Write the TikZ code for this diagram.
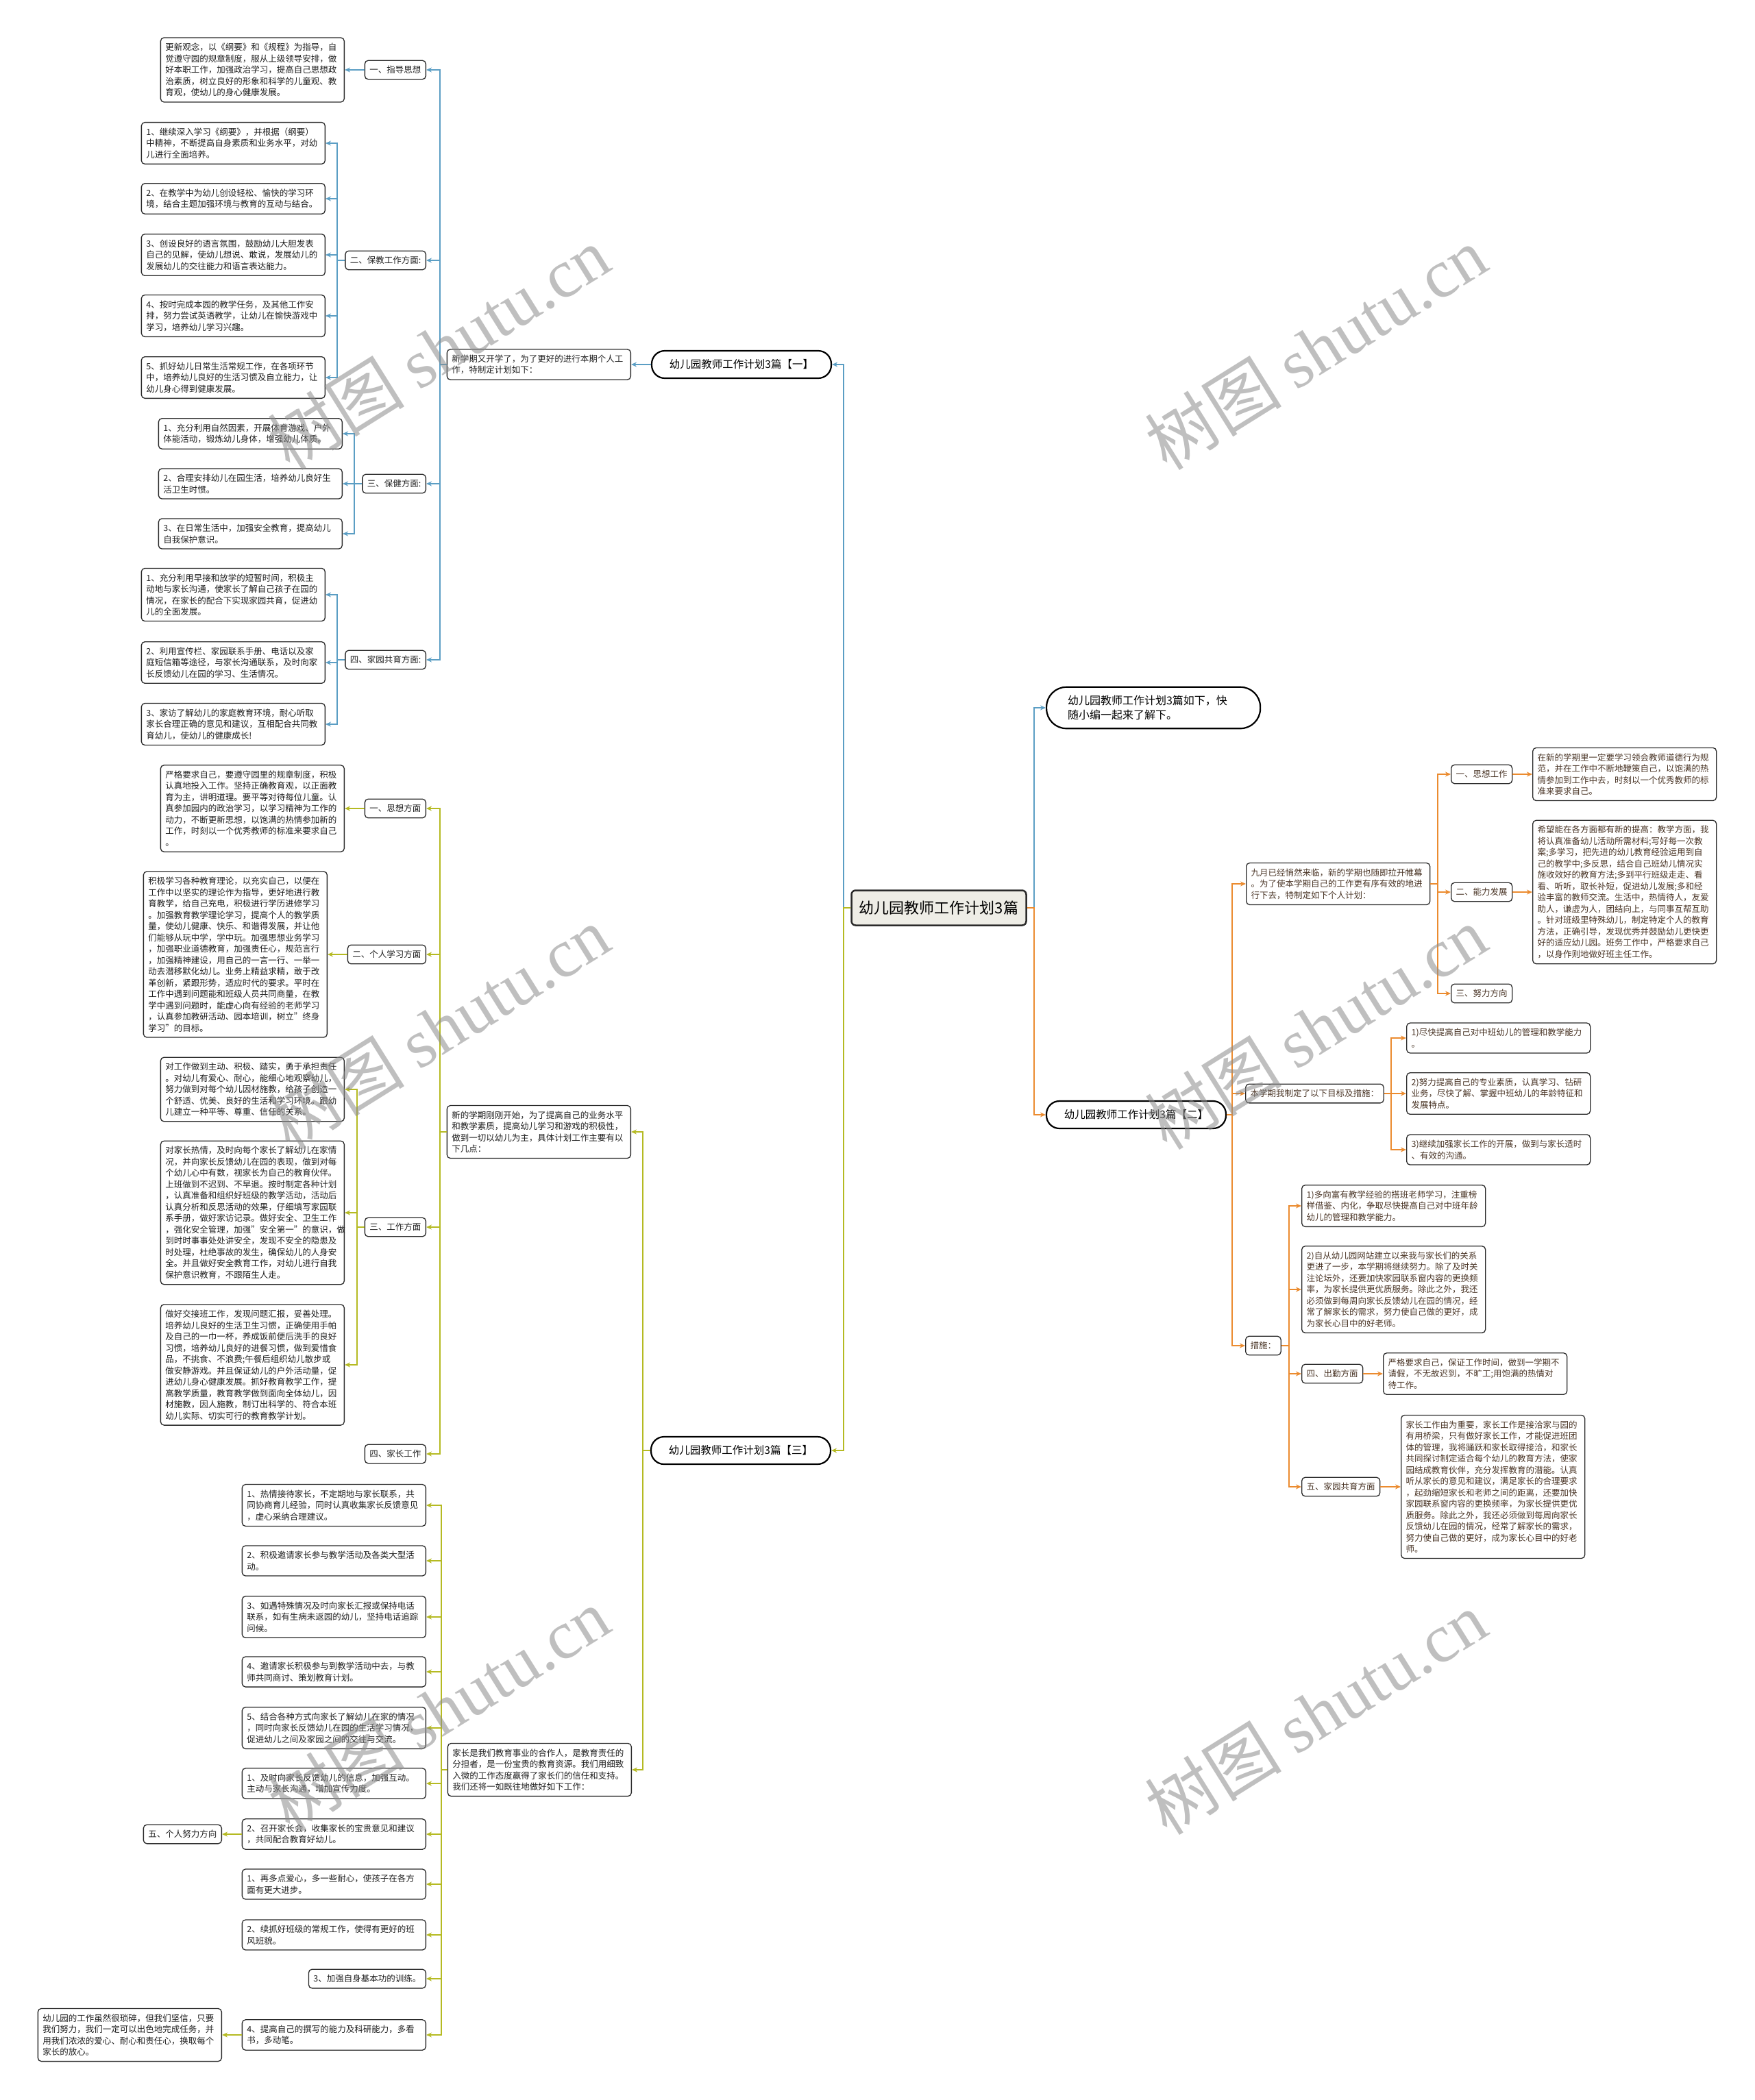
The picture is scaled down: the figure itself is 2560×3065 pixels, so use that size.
\documentclass[tikz,border=0pt]{standalone}
\usepackage{fontspec}
\setmainfont{Noto Sans CJK SC}
\newfontfamily\wmlatin{Liberation Serif}
\usetikzlibrary{arrows.meta}
\definecolor{cblue}{HTML}{5B9EC4}
\definecolor{cyel}{HTML}{B5BA22}
\definecolor{corg}{HTML}{EB8B2F}
\definecolor{bordc}{HTML}{2B2B2B}
\definecolor{brn}{HTML}{4A3526}
\definecolor{rootfill}{HTML}{EEEDE6}
\tikzset{
  box/.style={draw=bordc, line width=1.3pt, rounded corners=5pt, fill=white,
    inner xsep=7pt, inner ysep=8pt, font=\fontsize{12.5}{16.5}\selectfont,
    align=left, text=black!88},
  leaf/.style={box, text width=254pt},
  otext/.style={text=brn},
  branch/.style={draw=black, line width=2.2pt, rounded corners=19pt, fill=white,
    minimum width=262pt, minimum height=40pt, inner sep=0pt,
    font=\fontsize{15.5}{19}\selectfont},
  conn/.style={line width=2pt, -{Stealth[length=8pt,width=7pt]}},
  wm/.style={rotate=32, text=black!45, opacity=0.55, font=\fontsize{100}{100}\selectfont}
}
\begin{document}
\begin{tikzpicture}[x=1pt,y=-1pt]
\fill[white] (0,0) rectangle (2560,3065);
\useasboundingbox (0,0) rectangle (2560,3065);

% ---------- root ----------
\node[draw=bordc, line width=2.5pt, rounded corners=6pt, fill=rootfill,
  minimum width=255pt, minimum height=51pt, inner sep=0pt, font=\fontsize{22}{26}\selectfont]
  (root) at (1370,1325) {幼儿园教师工作计划3篇};

% ---------- branch 1 (blue) ----------
\node[branch] (b1) at (1082,532) {幼儿园教师工作计划3篇【一】};
\node[leaf, anchor=east] (i1) at (921,532) {新学期又开学了，为了更好的进行本期个人工\\作，特制定计划如下：};

\node[box, anchor=east] (s1) at (622,102) {一、指导思想};
\node[leaf, anchor=east] (l1) at (503,102) {更新观念，以《纲要》和《规程》为指导，自\\觉遵守园的规章制度，服从上级领导安排，做\\好本职工作，加强政治学习，提高自己思想政\\治素质，树立良好的形象和科学的儿童观、教\\育观，使幼儿的身心健康发展。};

\node[box, anchor=east] (s2) at (622,380) {二、保教工作方面:};
\node[leaf, anchor=east] (l21) at (475,209) {1、继续深入学习《纲要》，并根据（纲要）\\中精神，不断提高自身素质和业务水平，对幼\\儿进行全面培养。};
\node[leaf, anchor=east] (l22) at (475,290) {2、在教学中为幼儿创设轻松、愉快的学习环\\境，结合主题加强环境与教育的互动与结合。};
\node[leaf, anchor=east] (l23) at (475,372) {3、创设良好的语言氛围，鼓励幼儿大胆发表\\自己的见解，使幼儿想说、敢说，发展幼儿的\\发展幼儿的交往能力和语言表达能力。};
\node[leaf, anchor=east] (l24) at (475,461) {4、按时完成本园的教学任务，及其他工作安\\排，努力尝试英语教学，让幼儿在愉快游戏中\\学习，培养幼儿学习兴趣。};
\node[leaf, anchor=east] (l25) at (475,551) {5、抓好幼儿日常生活常规工作，在各项环节\\中，培养幼儿良好的生活习惯及自立能力，让\\幼儿身心得到健康发展。};

\node[box, anchor=east] (s3) at (622,706) {三、保健方面:};
\node[leaf, anchor=east] (l31) at (500,633) {1、充分利用自然因素，开展体育游戏、户外\\体能活动，锻炼幼儿身体，增强幼儿体质。};
\node[leaf, anchor=east] (l32) at (500,706) {2、合理安排幼儿在园生活，培养幼儿良好生\\活卫生时惯。};
\node[leaf, anchor=east] (l33) at (500,779) {3、在日常生活中，加强安全教育，提高幼儿\\自我保护意识。};

\node[box, anchor=east] (s4) at (622,963) {四、家园共育方面:};
\node[leaf, anchor=east] (l41) at (475,868) {1、充分利用早接和放学的短暂时间，积极主\\动地与家长沟通，使家长了解自己孩子在园的\\情况，在家长的配合下实现家园共育，促进幼\\儿的全面发展。};
\node[leaf, anchor=east] (l42) at (475,967) {2、利用宣传栏、家园联系手册、电话以及家\\庭短信箱等途径，与家长沟通联系，及时向家\\长反馈幼儿在园的学习、生活情况。};
\node[leaf, anchor=east] (l43) at (475,1057) {3、家访了解幼儿的家庭教育环境，耐心听取\\家长合理正确的意见和建议，互相配合共同教\\育幼儿，使幼儿的健康成长!};

\begin{scope}[cblue]
\draw[conn] (root.west) -- ++(-10,0) |- (b1.east);
\draw[conn] (b1.west) -- (i1.east);
\foreach \t in {s1,s2,s3,s4} \draw[conn] (i1.west) -- ++(-10,0) |- (\t.east);
\draw[conn] (s1.west) -- (l1.east);
\foreach \t in {l21,l22,l23,l24,l25} \draw[conn] (s2.west) -- ++(-11,0) |- (\t.east);
\foreach \t in {l31,l32,l33} \draw[conn] (s3.west) -- ++(-11,0) |- (\t.east);
\foreach \t in {l41,l42,l43} \draw[conn] (s4.west) -- ++(-11,0) |- (\t.east);
\end{scope}

% ---------- branch 3 (yellow) ----------
\node[branch] (b3) at (1081,2117) {幼儿园教师工作计划3篇【三】};
\node[leaf, anchor=east] (i3) at (921,1652) {新的学期刚刚开始，为了提高自己的业务水平\\和教学素质，提高幼儿学习和游戏的积极性，\\做到一切以幼儿为主，具体计划工作主要有以\\下几点：};
\node[leaf, anchor=east] (i5) at (922,2583) {家长是我们教育事业的合作人，是教育责任的\\分担者，是一份宝贵的教育资源。我们用细致\\入微的工作态度赢得了家长们的信任和支持。\\我们还将一如既往地做好如下工作：};

\node[box, anchor=east] (y1) at (622,1180) {一、思想方面};
\node[leaf, anchor=east] (y1l) at (503,1180) {严格要求自己，要遵守园里的规章制度，积极\\认真地投入工作。坚持正确教育观，以正面教\\育为主，讲明道理。要平等对待每位儿童。认\\真参加园内的政治学习，以学习精神为工作的\\动力，不断更新思想，以饱满的热情参加新的\\工作，时刻以一个优秀教师的标准来要求自己\\。};

\node[box, anchor=east] (y2) at (622,1393) {二、个人学习方面};
\node[leaf, anchor=east] (y2l) at (478,1393) {积极学习各种教育理论，以充实自己，以便在\\工作中以坚实的理论作为指导，更好地进行教\\育教学，给自己充电，积极进行学历进修学习\\。加强教育教学理论学习，提高个人的教学质\\量，使幼儿健康、快乐、和谐得发展，并让他\\们能够从玩中学，学中玩。加强思想业务学习\\，加强职业道德教育，加强责任心，规范言行\\，加强精神建设，用自己的一言一行、一举一\\动去潜移默化幼儿。业务上精益求精，敢于改\\革创新，紧跟形势，适应时代的要求。平时在\\工作中遇到问题能和班级人员共同商量，在教\\学中遇到问题时，能虚心向有经验的老师学习\\，认真参加教研活动、园本培训，树立"终身\\学习"的目标。};

\node[box, anchor=east] (y3) at (622,1791) {三、工作方面};
\node[leaf, anchor=east] (y3a) at (503,1590) {对工作做到主动、积极、踏实，勇于承担责任\\。对幼儿有爱心、耐心，能细心地观察幼儿，\\努力做到对每个幼儿因材施教，给孩子创造一\\个舒适、优美、良好的生活和学习环境。跟幼\\儿建立一种平等、尊重、信任的关系。};
\node[leaf, anchor=east] (y3b) at (503,1770) {对家长热情，及时向每个家长了解幼儿在家情\\况，并向家长反馈幼儿在园的表现，做到对每\\个幼儿心中有数，视家长为自己的教育伙伴。\\上班做到不迟到、不早退。按时制定各种计划\\，认真准备和组织好班级的教学活动，活动后\\认真分析和反思活动的效果，仔细填写家园联\\系手册，做好家访记录。做好安全、卫生工作\\，强化安全管理，加强"安全第一"的意识，做\\到时时事事处处讲安全，发现不安全的隐患及\\时处理，杜绝事故的发生，确保幼儿的人身安\\全。并且做好安全教育工作，对幼儿进行自我\\保护意识教育，不跟陌生人走。};
\node[leaf, anchor=east] (y3c) at (503,1992) {做好交接班工作，发现问题汇报，妥善处理。\\培养幼儿良好的生活卫生习惯，正确使用手帕\\及自己的一巾一杯，养成饭前便后洗手的良好\\习惯，培养幼儿良好的进餐习惯，做到爱惜食\\品，不挑食、不浪费;午餐后组织幼儿散步或\\做安静游戏。并且保证幼儿的户外活动量，促\\进幼儿身心健康发展。抓好教育教学工作，提\\高教学质量，教育教学做到面向全体幼儿，因\\材施教，因人施教，制订出科学的、符合本班\\幼儿实际、切实可行的教育教学计划。};

\node[box, anchor=east] (y4) at (622,2122) {四、家长工作};

\node[leaf, anchor=east] (c1) at (622,2197) {1、热情接待家长，不定期地与家长联系，共\\同协商育儿经验，同时认真收集家长反馈意见\\，虚心采纳合理建议。};
\node[leaf, anchor=east] (c2) at (622,2278) {2、积极邀请家长参与教学活动及各类大型活\\动。};
\node[leaf, anchor=east] (c3) at (622,2360) {3、如遇特殊情况及时向家长汇报或保持电话\\联系，如有生病未返园的幼儿，坚持电话追踪\\问候。};
\node[leaf, anchor=east] (c4) at (622,2440) {4、邀请家长积极参与到教学活动中去，与教\\师共同商讨、策划教育计划。};
\node[leaf, anchor=east] (c5) at (622,2522) {5、结合各种方式向家长了解幼儿在家的情况\\，同时向家长反馈幼儿在园的生活学习情况，\\促进幼儿之间及家园之间的交往与交流。};
\node[leaf, anchor=east] (c6) at (622,2603) {1、及时向家长反馈幼儿的信息，加强互动。\\主动与家长沟通，增加宣传力度。};
\node[leaf, anchor=east] (c7) at (622,2677) {2、召开家长会，收集家长的宝贵意见和建议\\，共同配合教育好幼儿。};
\node[leaf, anchor=east] (c8) at (622,2750) {1、再多点爱心，多一些耐心，使孩子在各方\\面有更大进步。};
\node[leaf, anchor=east] (c9) at (622,2824) {2、续抓好班级的常规工作，使得有更好的班\\风班貌。};
\node[box, anchor=east] (c10) at (622,2888) {3、加强自身基本功的训练。};
\node[leaf, anchor=east] (c11) at (622,2970) {4、提高自己的撰写的能力及科研能力，多看\\书，多动笔。};
\node[box, anchor=east] (wu) at (324,2677) {五、个人努力方向};
\node[leaf, anchor=east] (fin) at (324,2970) {幼儿园的工作虽然很琐碎，但我们坚信，只要\\我们努力，我们一定可以出色地完成任务，并\\用我们浓浓的爱心、耐心和责任心，换取每个\\家长的放心。};

\begin{scope}[cyel]
\draw[conn] (root.west) -- ++(-10,0) |- (b3.east);
\foreach \t in {i3,i5} \draw[conn] (b3.west) -- ++(-11,0) |- (\t.east);
\foreach \t in {y1,y2,y3,y4} \draw[conn] (i3.west) -- ++(-10,0) |- (\t.east);
\draw[conn] (y1.west) -- (y1l.east);
\draw[conn] (y2.west) -- (y2l.east);
\foreach \t in {y3a,y3b,y3c} \draw[conn] (y3.west) -- ++(-11,0) |- (\t.east);
\foreach \t in {c1,c2,c3,c4,c5,c6,c7,c8,c9,c10,c11} \draw[conn] (i5.west) -- ++(-9,0) |- (\t.east);
\draw[conn] (c7.west) -- (wu.east);
\draw[conn] (c11.west) -- (fin.east);
\end{scope}

% ---------- right side ----------
\node[draw=black, line width=2.2pt, rounded corners=29pt, fill=white, anchor=west,
  text width=250pt, inner xsep=31pt, inner ysep=12pt, align=left,
  font=\fontsize{16}{21.5}\selectfont] (ir) at (1526,1033)
  {幼儿园教师工作计划3篇如下，快\\随小编一起来了解下。};
\draw[conn, cblue] (root.east) -- ++(10,0) |- (ir.west);

\node[branch] (b2) at (1658,1627) {幼儿园教师工作计划3篇【二】};

\node[leaf, otext, anchor=west] (j) at (1818,1290) {九月已经悄然来临，新的学期也随即拉开帷幕\\。为了使本学期自己的工作更有序有效的地进\\行下去，特制定如下个人计划：};
\node[box, otext, anchor=west] (o1) at (2117,1130) {一、思想工作};
\node[leaf, otext, anchor=west] (o1l) at (2236,1130) {在新的学期里一定要学习领会教师道德行为规\\范，并在工作中不断地鞭策自己，以饱满的热\\情参加到工作中去，时刻以一个优秀教师的标\\准来要求自己。};
\node[box, otext, anchor=west] (o2) at (2117,1302) {二、能力发展};
\node[leaf, otext, anchor=west] (o2l) at (2236,1302) {希望能在各方面都有新的提高：教学方面，我\\将认真准备幼儿活动所需材料;写好每一次教\\案;多学习，把先进的幼儿教育经验运用到自\\己的教学中;多反思，结合自己班幼儿情况实\\施收效好的教育方法;多到平行班级走走、看\\看、听听，取长补短，促进幼儿发展;多和经\\验丰富的教师交流。生活中，热情待人，友爱\\助人，谦虚为人，团结向上，与同事互帮互助\\。针对班级里特殊幼儿，制定特定个人的教育\\方法，正确引导，发现优秀并鼓励幼儿更快更\\好的适应幼儿园。班务工作中，严格要求自己\\，以身作则地做好班主任工作。};
\node[box, otext, anchor=west] (o3) at (2117,1450) {三、努力方向};

\node[box, otext, anchor=west] (bx) at (1817,1596) {本学期我制定了以下目标及措施：};
\node[leaf, otext, anchor=west] (g1) at (2052,1515) {1)尽快提高自己对中班幼儿的管理和教学能力\\。};
\node[leaf, otext, anchor=west] (g2) at (2052,1596) {2)努力提高自己的专业素质，认真学习、钻研\\业务，尽快了解、掌握中班幼儿的年龄特征和\\发展特点。};
\node[leaf, otext, anchor=west] (g3) at (2052,1678) {3)继续加强家长工作的开展，做到与家长适时\\、有效的沟通。};

\node[box, otext, anchor=west] (cs) at (1817,1964) {措施：};
\node[leaf, otext, anchor=west] (m1) at (1899,1760) {1)多向富有教学经验的搭班老师学习，注重榜\\样借鉴、内化，争取尽快提高自己对中班年龄\\幼儿的管理和教学能力。};
\node[leaf, otext, anchor=west] (m2) at (1899,1882) {2)自从幼儿园网站建立以来我与家长们的关系\\更进了一步，本学期将继续努力。除了及时关\\注论坛外，还要加快家园联系窗内容的更换频\\率，为家长提供更优质服务。除此之外，我还\\必须做到每周向家长反馈幼儿在园的情况，经\\常了解家长的需求，努力使自己做的更好，成\\为家长心目中的好老师。};
\node[box, otext, anchor=west] (m4) at (1899,2005) {四、出勤方面};
\node[leaf, otext, anchor=west] (m4l) at (2018,2005) {严格要求自己，保证工作时间，做到一学期不\\请假，不无故迟到，不旷工;用饱满的热情对\\待工作。};
\node[box, otext, anchor=west] (m5) at (1899,2170) {五、家园共育方面};
\node[leaf, otext, anchor=west] (m5l) at (2044,2170) {家长工作由为重要，家长工作是接洽家与园的\\有用桥梁，只有做好家长工作，才能促进班团\\体的管理，我将踊跃和家长取得接洽，和家长\\共同探讨制定适合每个幼儿的教育方法，使家\\园结成教育伙伴，充分发挥教育的潜能。认真\\听从家长的意见和建议，满足家长的合理要求\\，起劲缩短家长和老师之间的距离，还要加快\\家园联系窗内容的更换频率，为家长提供更优\\质服务。除此之外，我还必须做到每周向家长\\反馈幼儿在园的情况，经常了解家长的需求，\\努力使自己做的更好，成为家长心目中的好老\\师。};

\begin{scope}[corg]
\draw[conn] (root.east) -- ++(10,0) |- (b2.west);
\foreach \t in {j,bx,cs} \draw[conn] (b2.east) -- ++(8,0) |- (\t.west);
\foreach \t in {o1,o2,o3} \draw[conn] (j.east) -- ++(11,0) |- (\t.west);
\draw[conn] (o1.east) -- (o1l.west);
\draw[conn] (o2.east) -- (o2l.west);
\foreach \t in {g1,g2,g3} \draw[conn] (bx.east) -- ++(10,0) |- (\t.west);
\foreach \t in {m1,m2,m4,m5} \draw[conn] (cs.east) -- ++(11,0) |- (\t.west);
\draw[conn] (m4.east) -- (m4l.west);
\draw[conn] (m5.east) -- (m5l.west);
\end{scope}

% ---------- watermarks ----------
\foreach \wx/\wy in {640/508, 1920/508, 640/1500, 1920/1500, 640/2495, 1920/2500}
  \node[wm] (wm\wx\wy) at (\wx,\wy) {树图 {\wmlatin shutu.cn}};
\end{tikzpicture}
\end{document}
